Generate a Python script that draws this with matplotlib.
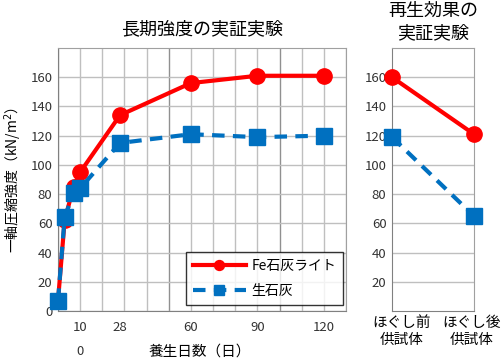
import matplotlib
matplotlib.use("Agg")
import matplotlib.pyplot as plt
import matplotlib.transforms as mtransforms
from matplotlib.ticker import MultipleLocator

plt.rcParams['font.family'] = ['Noto Sans CJK JP', 'DejaVu Sans']

# Data
days = [0, 3, 7, 10, 28, 60, 90, 120]
fe_lime = [7, 62, 85, 95, 134, 156, 161, 161]
quicklime = [7, 64, 81, 84, 115, 121, 119, 120]
day_ticks = [10, 28, 60, 90, 120]

regen_cats = ['ほぐし前\n供試体', 'ほぐし後\n供試体']
regen_fe = [160, 121]
regen_quick = [119, 65]

RED = '#FF0000'
BLUE = '#0070C0'
GRID = '#BFBFBF'
W, H = 502, 361

fig = plt.figure(figsize=(W / 100, H / 100), dpi=100)

def ax_rect(x0, y0, x1, y1):
    return [x0 / W, 1 - y1 / H, (x1 - x0) / W, (y1 - y0) / H]

ax1 = fig.add_axes(ax_rect(58, 48, 346, 311))
ax2 = fig.add_axes(ax_rect(392, 48, 474, 311))

# Left chart
ax1.set_xlim(0, 130)
ax1.set_ylim(0, 180)
ax1.xaxis.set_minor_locator(MultipleLocator(10))
ax1.xaxis.set_major_locator(MultipleLocator(50))
ax1.yaxis.set_major_locator(MultipleLocator(20))
ax1.grid(which='minor', axis='x', color=GRID, lw=1)
ax1.grid(which='major', axis='x', color='#909090', lw=1)
ax1.grid(which='major', axis='y', color=GRID, lw=1)
ax1.set_axisbelow(True)
ax1.set_xticklabels([])
ax1.tick_params(which='both', length=0)
ax1.set_yticks(range(0, 161, 20))
ax1.tick_params(axis='y', labelsize=9.5, pad=4, labelcolor='#333333')
for s in ax1.spines.values():
    s.set_color('#A0A0A0')
ax1.spines['left'].set_color('#808080')
ax1.spines['bottom'].set_color('#808080')

ax1.plot(days, fe_lime, color=RED, lw=3, marker='o', ms=11, label='Fe石灰ライト',
         zorder=3, clip_on=False)
ax1.plot(days, quicklime, color=BLUE, lw=3, ls=(0, (3, 2)), marker='s', ms=11,
         label='生石灰', zorder=4, clip_on=False)

for d in day_ticks:
    ax1.text(d, -11, str(d), ha='center', va='center', fontsize=9.5, color='#333333')
ax1.text(10, -28, '0', ha='center', va='center', fontsize=9.5, color='#333333')

leg = ax1.legend(loc='lower right', bbox_to_anchor=(285 / 288, 6 / 263),
                 borderaxespad=0,
                 frameon=True, fancybox=False, edgecolor='black', fontsize=10,
                 handlelength=3.8, borderpad=0.5, labelspacing=0.8,
                 handletextpad=0.4, markerscale=0.65)
leg.get_frame().set_linewidth(1)

ax1.set_title('長期強度の実証実験', fontsize=13, pad=10)
fig.text(200 / W, 1 - 352 / H, '養生日数（日）', ha='center', va='center', fontsize=10.5)
fig.text(13 / W, 1 - 180 / H, '一軸圧縮強度（kN/m$^2$）', ha='center', va='center',
         rotation=90, fontsize=10)

# Right chart
xs = [0, 1]
ax2.set_xlim(0, 1)
ax2.set_ylim(0, 180)
ax2.set_yticks(range(20, 161, 20))
ax2.grid(axis='y', color=GRID, lw=1)
ax2.set_axisbelow(True)
ax2.tick_params(which='both', length=0)
ax2.tick_params(axis='y', labelsize=9.5, pad=4, labelcolor='#333333')
ax2.set_xticks(xs)
ax2.set_xticklabels(regen_cats, fontsize=10.5, linespacing=1.3)
for lbl, dx in zip(ax2.get_xticklabels(), [10, -2]):
    lbl.set_transform(lbl.get_transform() + mtransforms.ScaledTranslation(dx / 100, 0, fig.dpi_scale_trans))
for s in ax2.spines.values():
    s.set_color('#A0A0A0')
ax2.spines['left'].set_color('#808080')
ax2.spines['bottom'].set_color('#808080')
ax2.plot(xs, regen_fe, color=RED, lw=3, marker='o', ms=11, zorder=3, clip_on=False)
ax2.plot(xs, regen_quick, color=BLUE, lw=3, ls=(0, (3, 2)), marker='s', ms=11,
         zorder=4, clip_on=False)
ax2.set_title('再生効果の\n実証実験', fontsize=13, pad=7, linespacing=1.35)

fig.savefig('out.png', dpi=100)
